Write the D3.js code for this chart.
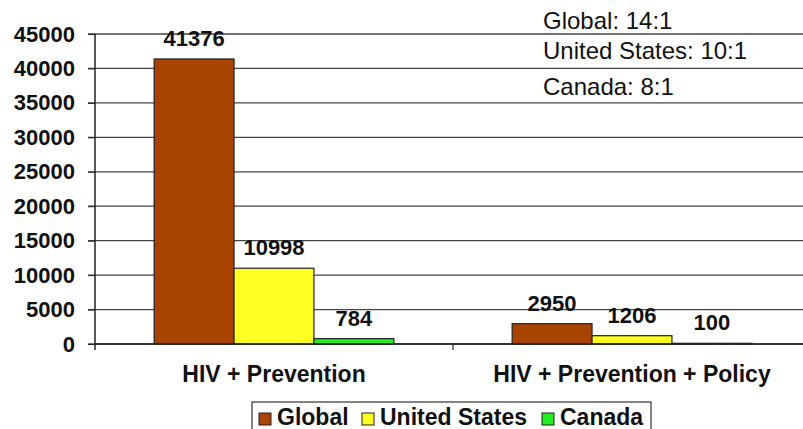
<!DOCTYPE html>
<html><head><meta charset="utf-8">
<script src="https://cdn.jsdelivr.net/npm/d3@7"></script>
<style>body{margin:0;background:#fff}svg{display:block}</style>
</head><body><svg id="c" width="803" height="429"></svg>
<script>
const categories = ["HIV + Prevention", "HIV + Prevention + Policy"];
const seriesNames = ["Global", "United States", "Canada"];
const global = [41376, 2950];
const unitedStates = [10998, 1206];
const canada = [784, 100];
const colors = ["#A94400", "#FFFF22", "#22EE22"];
const yTicks = [0,5000,10000,15000,20000,25000,30000,35000,40000,45000];
const ratios = ["Global: 14:1", "United States: 10:1", "Canada: 8:1"];

(function(){
const values = [global, unitedStates, canada];
const svg = d3.select("#c");
const font = "Liberation Sans, Arial, sans-serif";
const mLeft = 95, mRight = 811, mTop = 34, mBottom = 344;

const y = d3.scaleLinear().domain([0,45000]).range([mBottom, mTop]);
const x0 = d3.scaleBand().domain(categories).range([mLeft, mRight]).paddingInner(0).paddingOuter(0);
const x1 = d3.scaleBand().domain(seriesNames).range([0, x0.bandwidth()]).paddingInner(0).paddingOuter(0.74);

// grid
svg.append("g").selectAll("line").data(yTicks).join("line")
  .attr("x1", mLeft-7).attr("x2", 803).attr("y1", d=>y(d)).attr("y2", d=>y(d))
  .attr("stroke", "#444").attr("stroke-width", 1.3);

// y axis
const yAxis = svg.append("g").attr("transform", `translate(${mLeft},0)`)
  .call(d3.axisLeft(y).tickValues(yTicks).tickSize(7).tickPadding(13).tickFormat(d3.format("d")));
yAxis.select(".domain").remove();
yAxis.selectAll("line").attr("stroke", "#222");
yAxis.selectAll("text").attr("font-family", font).attr("font-weight", "bold").attr("font-size", 22).attr("fill", "#111");
svg.append("line").attr("x1", mLeft).attr("x2", mLeft).attr("y1", mTop).attr("y2", mBottom+6).attr("stroke", "#222").attr("stroke-width", 1.5);

// bars
const groups = svg.append("g").selectAll("g").data(categories).join("g")
  .attr("transform", d => `translate(${x0(d)},0)`);
groups.each(function(cat, ci) {
  const g = d3.select(this);
  seriesNames.forEach((s, si) => {
    const v = values[si][ci];
    g.append("rect").attr("x", x1(s)).attr("width", x1.bandwidth())
      .attr("y", y(v)).attr("height", mBottom - y(v))
      .attr("fill", colors[si]).attr("stroke", "#222").attr("stroke-width", 1.2);
    g.append("text").attr("x", x1(s) + x1.bandwidth()/2).attr("y", y(v) - 13)
      .attr("text-anchor", "middle").attr("font-family", font).attr("font-weight", "bold")
      .attr("font-size", 22).attr("fill", "#111").text(v);
  });
});

// x axis
const xAxis = svg.append("g").attr("transform", `translate(0,${mBottom})`)
  .call(d3.axisBottom(x0).tickSize(0).tickPadding(22));
xAxis.select(".domain").remove();
xAxis.selectAll("text").attr("font-family", font).attr("font-weight", "bold").attr("font-size", 23).attr("fill", "#111");
svg.append("line").attr("x1", mLeft).attr("x2", 803).attr("y1", mBottom).attr("y2", mBottom).attr("stroke", "#222").attr("stroke-width", 1.5);
svg.append("g").selectAll("line").data(categories.slice(1)).join("line")
  .attr("x1", d=>x0(d)).attr("x2", d=>x0(d)).attr("y1", mBottom).attr("y2", mBottom+6).attr("stroke", "#222").attr("stroke-width", 1.2);

// ratio text
svg.append("g").selectAll("text").data(ratios).join("text")
  .attr("x", 543).attr("y", (d,i) => [29, 59, 95][i])
  .attr("font-family", font).attr("font-size", 24).attr("fill", "#111").text(d=>d);

// legend
const lg = svg.append("g");
lg.append("rect").attr("x", 252).attr("y", 402).attr("width", 399).attr("height", 40).attr("fill", "#fff").attr("stroke", "#333").attr("stroke-width", 1.2);
const legX = [259, 362, 542];
seriesNames.forEach((s, i) => {
  lg.append("rect").attr("x", legX[i]).attr("y", 413).attr("width", 12).attr("height", 12).attr("fill", colors[i]).attr("stroke", "#222");
  lg.append("text").attr("x", legX[i] + 18).attr("y", 425).attr("font-family", font).attr("font-weight", "bold").attr("font-size", 23).attr("fill", "#111").text(s);
});
})();
</script></body></html>
